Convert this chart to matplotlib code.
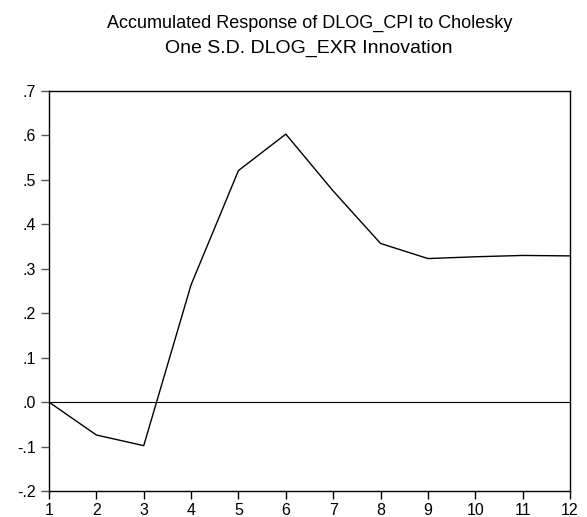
import matplotlib.pyplot as plt

# Impulse response values
periods = list(range(1, 13))
response = [0.0, -0.074, -0.098, 0.264, 0.521, 0.603, 0.475, 0.357, 0.323, 0.327, 0.330, 0.329]
ytick_vals = [-0.2, -0.1, 0.0, 0.1, 0.2, 0.3, 0.4, 0.5, 0.6, 0.7]
ytick_labels = ['-.2', '-.1', '.0', '.1', '.2', '.3', '.4', '.5', '.6', '.7']

plt.rcParams['font.family'] = ['Liberation Sans', 'DejaVu Sans']

fig = plt.figure(figsize=(5.87, 5.17), dpi=100)
ax = fig.add_axes([49 / 587, 1 - 491 / 517, (570 - 49) / 587, (491 - 91) / 517])

ax.plot(periods, response, color='black', linewidth=1.0)
ax.axhline(0, color='black', linewidth=0.8)

ax.set_xlim(1, 12)
ax.set_ylim(-0.2, 0.7)
ax.set_xticks(periods)
ax.set_yticks(ytick_vals)
ax.set_yticklabels(ytick_labels)
ax.tick_params(axis='both', labelsize=11.5, length=5.5, width=1, direction='out')
ax.tick_params(axis='x', pad=3)
ax.tick_params(axis='y', pad=4, color='#555555')
for s in ax.spines.values():
    s.set_linewidth(1.0)

fig.text(310 / 587, 1 - 28 / 517, 'Accumulated Response of DLOG_CPI to Cholesky',
         ha='center', va='baseline', fontsize=13)
fig.text(309 / 587, 1 - 53 / 517, 'One S.D. DLOG_EXR Innovation',
         ha='center', va='baseline', fontsize=14)

plt.savefig('out.png', dpi=100)
